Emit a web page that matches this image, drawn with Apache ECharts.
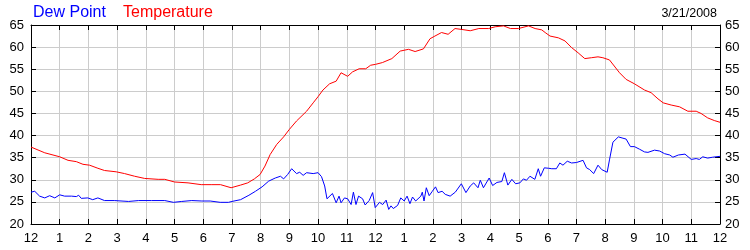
<!DOCTYPE html>
<html>
<head>
<meta charset="utf-8">
<script src="https://cdn.jsdelivr.net/npm/echarts@6/dist/echarts.min.js"></script>
<style>html,body{margin:0;padding:0;background:#fff;}#c{width:750px;height:250px;}</style>
</head>
<body>
<div id="c"></div>
<script>
var hourLabels = ['12','1','2','3','4','5','6','7','8','9','10','11','12','1','2','3','4','5','6','7','8','9','10','11','12'];
var yTicks = [20,25,30,35,40,45,50,55,60,65];

var tempHours = [0,0.48,1.0,1.29,1.58,1.81,2.04,2.33,2.56,2.97,3.26,3.61,3.96,4.43,4.66,5.0,5.47,5.93,6.3,6.6,6.97,7.3,7.55,7.78,7.98,8.15,8.33,8.56,8.8,9.0,9.25,9.6,9.83,10.0,10.17,10.4,10.63,10.8,11.03,11.2,11.43,11.66,11.83,12.0,12.24,12.57,12.86,13.15,13.38,13.67,13.9,14.07,14.3,14.53,14.77,15.0,15.3,15.6,15.94,16.17,16.46,16.7,16.98,17.33,17.56,17.79,17.91,18.08,18.37,18.6,18.83,19.06,19.29,19.52,19.75,19.92,20.15,20.5,20.73,21.02,21.37,21.6,21.84,22.02,22.3,22.59,22.88,23.17,23.34,23.57,23.8,24];
var tempValues = [37.4,36.1,35.2,34.4,34.1,33.5,33.3,32.6,32.1,31.8,31.4,30.8,30.3,30.1,30.1,29.5,29.3,28.9,28.9,28.9,28.2,28.8,29.3,30.2,31.2,33.1,35.7,38.0,39.7,41.4,43.3,45.5,47.4,48.8,50.3,51.7,52.3,54.2,53.4,54.4,55.1,55.1,55.9,56.1,56.5,57.4,59.1,59.5,59.0,59.6,61.9,62.5,63.3,62.9,64.2,64.0,63.7,64.2,64.2,64.6,64.8,64.2,64.2,64.8,64.2,63.9,63.3,62.5,62.1,61.4,59.9,58.7,57.4,57.6,57.8,57.6,57.1,54.2,52.7,51.7,50.3,49.7,48.3,47.4,46.9,46.5,45.5,45.5,45.0,44.0,43.4,43.0];

var dewHours = [0.0,0.13,0.3,0.48,0.65,0.83,1.0,1.17,1.41,1.58,1.66,1.75,1.98,2.15,2.33,2.56,2.9,3.4,3.75,4.2,4.66,4.96,5.25,5.6,5.95,6.24,6.59,6.88,7.0,7.3,7.59,7.82,8.05,8.28,8.51,8.69,8.8,8.94,9.08,9.25,9.36,9.48,9.6,9.83,10.0,10.12,10.23,10.31,10.5,10.63,10.73,10.8,10.92,11.03,11.15,11.23,11.32,11.41,11.55,11.64,11.78,11.9,11.99,12.14,12.25,12.37,12.46,12.54,12.62,12.77,12.88,13.0,13.1,13.2,13.29,13.4,13.58,13.63,13.69,13.77,13.87,13.98,14.09,14.18,14.32,14.43,14.6,14.78,14.99,15.15,15.3,15.42,15.57,15.65,15.76,15.96,16.08,16.23,16.4,16.49,16.61,16.75,16.88,17.03,17.15,17.26,17.38,17.55,17.67,17.75,17.88,18.03,18.14,18.3,18.42,18.53,18.68,18.83,19.0,19.23,19.35,19.46,19.6,19.75,19.88,20.07,20.15,20.27,20.46,20.62,20.73,20.88,21.02,21.2,21.37,21.49,21.72,21.9,22.07,22.25,22.36,22.55,22.78,23.0,23.17,23.28,23.4,23.57,23.74,24.0];
var dewValues = [27.2,27.4,26.3,25.9,26.4,25.9,26.6,26.3,26.3,26.2,26.5,25.8,25.9,25.5,25.9,25.3,25.3,25.1,25.3,25.3,25.3,24.9,25.1,25.3,25.2,25.2,24.9,24.9,25.1,25.5,26.5,27.4,28.4,29.7,30.4,30.8,30.2,31.2,32.5,31.4,31.7,31.0,31.6,31.4,31.6,30.7,28.6,25.7,26.9,24.8,26.3,24.8,25.9,25.7,24.4,27.2,24.4,26.3,25.7,24.3,25.3,27.1,23.7,24.9,24.4,25.4,23.3,24.1,23.5,24.2,25.9,25.2,26.3,24.6,26.1,25.2,26.3,27.2,25.2,28.2,26.4,27.4,28.4,27.1,27.4,26.7,26.3,27.2,29.1,27.1,28.6,29.3,28.2,29.9,28.2,30.4,28.7,29.4,29.6,31.6,28.8,30.1,29.1,29.3,30.2,29.9,30.8,30.1,32.5,30.8,32.7,32.6,32.5,32.5,33.8,33.3,34.2,33.8,33.9,34.4,32.7,32.3,31.4,33.3,32.3,31.7,34.5,38.5,39.7,39.4,39.2,37.5,37.5,36.9,36.3,36.2,36.7,36.5,35.9,35.6,35.1,35.6,35.8,34.6,34.8,34.6,35.2,34.9,35.1,35.3];

function pairs(xs, ys) { var out = []; for (var i = 0; i < xs.length; i++) out.push([xs[i], ys[i]]); return out; }

var FONT = 'Liberation Sans, Arial, sans-serif';
var chart = echarts.init(document.getElementById('c'), null, {renderer: 'canvas'});
var xBase = {
  type: 'value', min: 0, max: 24, interval: 1,
  axisLine: {show: true, onZero: false, lineStyle: {color: '#000', width: 1}},
  axisTick: {show: true, inside: true, length: 5, lineStyle: {color: '#000'}}
};
var yBase = {
  type: 'value', min: yTicks[0], max: yTicks[yTicks.length - 1], interval: 5,
  axisLine: {show: true, onZero: false, lineStyle: {color: '#000', width: 1}},
  axisTick: {show: true, inside: true, length: 5, lineStyle: {color: '#000'}}
};
chart.setOption({
  animation: false,
  backgroundColor: '#fff',
  title: [
    {text: 'Dew Point', left: 33, top: 5, padding: 0, textStyle: {color: '#0000ff', fontSize: 16, fontWeight: 'normal', fontFamily: FONT}},
    {text: 'Temperature', left: 123, top: 5, padding: 0, textStyle: {color: '#ff0000', fontSize: 16, fontWeight: 'normal', fontFamily: FONT}},
    {text: '3/21/2008', right: 33, top: 7, padding: 0, textStyle: {color: '#000', fontSize: 12.5, fontWeight: 'normal', fontFamily: FONT}}
  ],
  grid: {left: 31, right: 30, top: 25, bottom: 26, containLabel: false},
  xAxis: [
    Object.assign({}, xBase, {
      position: 'bottom',
      splitLine: {show: true, lineStyle: {color: '#cccccc', width: 1}},
      axisLabel: {show: true, margin: 8, color: '#000', fontSize: 13, fontFamily: FONT,
        formatter: function (v) { return hourLabels[Math.round(v)]; }}
    }),
    Object.assign({}, xBase, {
      position: 'top',
      splitLine: {show: false},
      axisLabel: {show: false}
    })
  ],
  yAxis: [
    Object.assign({}, yBase, {
      position: 'left',
      splitLine: {show: true, lineStyle: {color: '#cccccc', width: 1}},
      axisLabel: {show: true, margin: 7, color: '#000', fontSize: 13, fontFamily: FONT}
    }),
    Object.assign({}, yBase, {
      position: 'right',
      splitLine: {show: false},
      axisLabel: {show: true, margin: 5, color: '#000', fontSize: 13, fontFamily: FONT}
    })
  ],
  series: [
    {name: 'Dew Point', type: 'line', xAxisIndex: 0, yAxisIndex: 0, data: pairs(dewHours, dewValues),
      showSymbol: false, symbol: 'none', lineStyle: {color: '#0000ff', width: 1}, itemStyle: {color: '#0000ff'}},
    {name: 'Temperature', type: 'line', xAxisIndex: 0, yAxisIndex: 0, data: pairs(tempHours, tempValues),
      showSymbol: false, symbol: 'none', lineStyle: {color: '#ff0000', width: 1}, itemStyle: {color: '#ff0000'}}
  ]
});
</script>
</body>
</html>
